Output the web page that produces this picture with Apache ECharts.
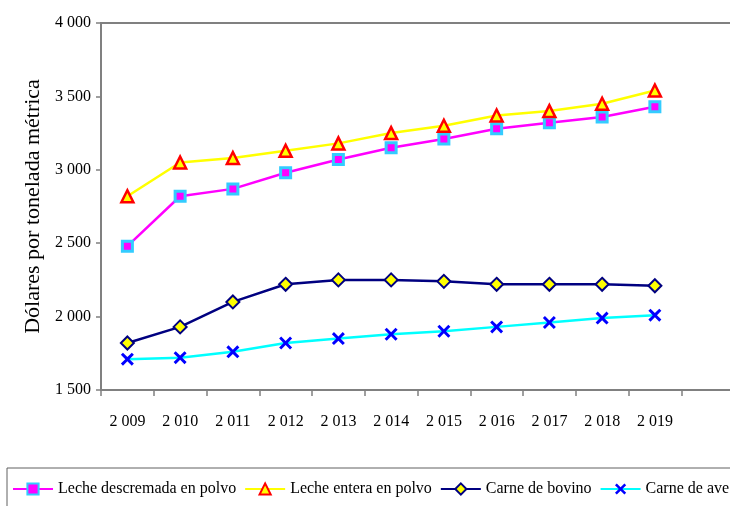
<html lang="es">
  <head>
    <meta charset="utf-8" />
    <title>Precios de lácteos y carnes</title>
    <script src="https://cdn.jsdelivr.net/npm/echarts@6/dist/echarts.min.js"></script>
    <style>
      body { margin: 0; background: #fff; }
    </style>
  </head>
  <body>
    <div id="main" style="width: 730px;height:506px;"></div>
    <script type="text/javascript">
      var years = ['2009', '2010', '2011', '2012', '2013', '2014', '2015', '2016', '2017', '2018', '2019'];
      var lecheDescremada = [2480, 2820, 2870, 2980, 3070, 3150, 3210, 3280, 3320, 3360, 3430];
      var lecheEntera = [2820, 3050, 3080, 3130, 3180, 3250, 3300, 3370, 3400, 3450, 3540];
      var carneBovino = [1820, 1930, 2100, 2220, 2250, 2250, 2240, 2220, 2220, 2220, 2210];
      var carneAve = [1710, 1720, 1760, 1820, 1850, 1880, 1900, 1930, 1960, 1990, 2010];

      var serif = '"Liberation Serif", "Times New Roman", serif';
      var xMark = 'path://M0,1.6 L1.6,0 L5,3.4 L8.4,0 L10,1.6 L6.6,5 L10,8.4 L8.4,10 L5,6.6 L1.6,10 L0,8.4 L3.4,5 Z';

      // miles separados por espacio: 4 000, 2 009
      function miles(v) {
        var s = String(v);
        return s.length > 3 ? s.slice(0, s.length - 3) + ' ' + s.slice(-3) : s;
      }

      var chartDom = document.getElementById('main');
      var myChart = echarts.init(chartDom);
      var option = {
        animation: false,
        textStyle: { fontFamily: serif },
        grid: {
          left: 101,
          top: 23,
          width: 633,
          height: 367,
          outerBoundsMode: 'none',
          containLabel: false,
          show: true,
          borderColor: '#808080',
          borderWidth: 2
        },
        legend: {
          left: 7,
          top: 468,
          width: 1200,
          padding: [13, 5, 13, 5],
          itemWidth: 40,
          itemHeight: 14,
          itemGap: 8,
          borderColor: '#606060',
          borderWidth: 1,
          textStyle: { fontFamily: serif, fontSize: 16, color: '#000' }
        },
        xAxis: {
          type: 'category',
          data: years.concat(['']),
          boundaryGap: true,
          axisLine: { lineStyle: { color: '#808080', width: 2 } },
          axisTick: { show: true, length: 6, lineStyle: { color: '#808080', width: 1.5 } },
          axisLabel: {
            margin: 24,
            fontFamily: serif,
            fontSize: 16,
            color: '#000',
            formatter: function (v) { return miles(v); }
          }
        },
        yAxis: {
          type: 'value',
          min: 1500,
          max: 4000,
          interval: 500,
          name: 'Dólares por tonelada métrica',
          nameLocation: 'middle',
          nameGap: 51,
          nameTextStyle: { fontFamily: serif, fontSize: 22, color: '#000' },
          splitLine: { show: false },
          axisLine: { show: true, lineStyle: { color: '#808080', width: 2 } },
          axisTick: { show: true, length: 5, lineStyle: { color: '#808080', width: 1.5 } },
          axisLabel: {
            margin: 10,
            fontFamily: serif,
            fontSize: 16,
            color: '#000',
            formatter: function (v) { return miles(v); }
          }
        },
        series: [
          {
            name: 'Leche descremada en polvo',
            type: 'line',
            data: lecheDescremada,
            symbol: 'rect',
            symbolSize: 10,
            lineStyle: { color: '#ff00ff', width: 2.5 },
            itemStyle: { color: '#ff00ff', borderColor: '#33ccff', borderWidth: 3 }
          },
          {
            name: 'Leche entera en polvo',
            type: 'line',
            data: lecheEntera,
            symbol: 'triangle',
            symbolSize: 12,
            lineStyle: { color: '#ffff00', width: 2.5 },
            itemStyle: { color: '#ffff00', borderColor: '#ff0000', borderWidth: 2.5 }
          },
          {
            name: 'Carne de bovino',
            type: 'line',
            data: carneBovino,
            symbol: 'diamond',
            symbolSize: 13,
            lineStyle: { color: '#000080', width: 2.5 },
            itemStyle: { color: '#ffff00', borderColor: '#000080', borderWidth: 2 }
          },
          {
            name: 'Carne de ave',
            type: 'line',
            data: carneAve,
            symbol: xMark,
            symbolSize: 13,
            lineStyle: { color: '#00ffff', width: 2.5 },
            itemStyle: { color: '#0000ff' }
          }
        ]
      };

      myChart.setOption(option);
    </script>
  </body>
</html>
